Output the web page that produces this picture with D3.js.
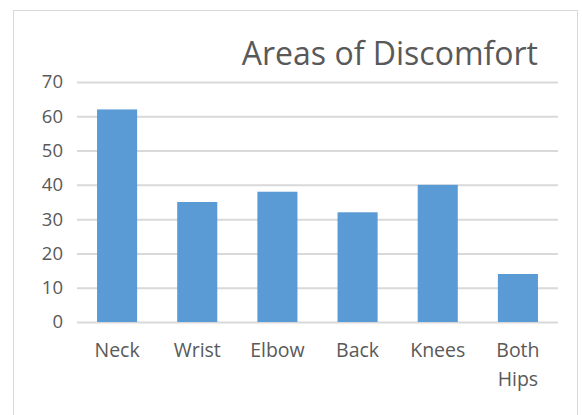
<!DOCTYPE html>
<html>
<head>
<meta charset="utf-8">
<script src="https://cdn.jsdelivr.net/npm/d3@7"></script>
<style>
  html, body { margin: 0; padding: 0; background: #ffffff; }
  svg { display: block; }
  text { font-family: "Open Sans", "Noto Sans", sans-serif; fill: #595959; }
</style>
</head>
<body>
<svg id="chart" width="582" height="415"></svg>
<script>
// Chart data
const categories = ["Neck", "Wrist", "Elbow", "Back", "Knees", "Both Hips"];
const values = [62, 35, 38, 32, 40, 14];
const yTicks = [0, 10, 20, 30, 40, 50, 60, 70];
const title = "Areas of Discomfort";

const svg = d3.select("#chart");

// Chart frame
svg.append("rect")
  .attr("x", 13.5).attr("y", 10.5)
  .attr("width", 564).attr("height", 420)
  .attr("fill", "#ffffff")
  .attr("stroke", "#d9d9d9")
  .attr("stroke-width", 1);

const plot = { left: 77, right: 558, top: 82, bottom: 322 };

const x = d3.scaleBand()
  .domain(categories)
  .range([plot.left, plot.right])
  .paddingInner(0.5)
  .paddingOuter(0.25);

const y = d3.scaleLinear()
  .domain([0, 70])
  .range([plot.bottom, plot.top]);

// Horizontal gridlines and value labels
const yAxis = d3.axisLeft(y)
  .tickValues(yTicks)
  .tickSize(-(plot.right - plot.left))
  .tickPadding(14)
  .tickFormat(d3.format("d"));

const gy = svg.append("g")
  .attr("transform", `translate(${plot.left},0)`)
  .call(yAxis);
gy.select(".domain").remove();
gy.selectAll(".tick line")
  .attr("stroke", "#d9d9d9")
  .attr("stroke-width", 2);
gy.selectAll(".tick text")
  .attr("font-size", 18.5)
  .style("fill", "#595959");

// Bars
svg.append("g")
  .selectAll("rect")
  .data(values)
  .join("rect")
  .attr("x", (d, i) => x(categories[i]))
  .attr("y", d => y(d))
  .attr("width", x.bandwidth())
  .attr("height", d => y(0) - y(d))
  .attr("fill", "#5b9bd5");

// Category labels (wrapped on spaces)
const labels = svg.append("g")
  .selectAll("text")
  .data(categories)
  .join("text")
  .attr("x", d => x(d) + x.bandwidth() / 2)
  .attr("y", 357)
  .attr("text-anchor", "middle")
  .attr("font-size", 19.5);
labels.each(function(d) {
  const t = d3.select(this);
  d.split(" ").forEach((w, k) => {
    t.append("tspan")
      .attr("x", x(d) + x.bandwidth() / 2)
      .attr("dy", k === 0 ? 0 : 29)
      .text(w);
  });
});

// Title
svg.append("text")
  .attr("x", 538)
  .attr("y", 65)
  .attr("text-anchor", "end")
  .attr("font-size", 32)
  .text(title);
</script>
</body>
</html>
